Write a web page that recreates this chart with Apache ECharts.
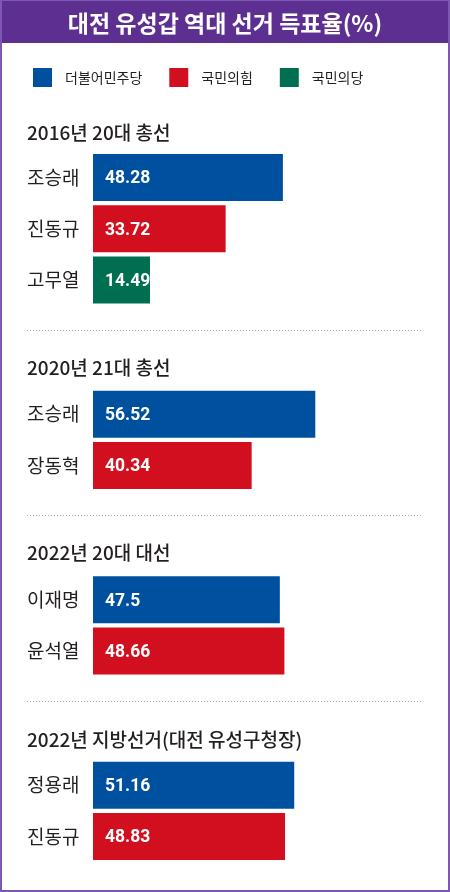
<!DOCTYPE html>
<html><head><meta charset="utf-8">
<script src="https://cdn.jsdelivr.net/npm/echarts@6/dist/echarts.min.js"></script>
<style>html,body{margin:0;padding:0;background:#fff}#c{width:450px;height:892px}</style>
</head><body><div id="c"></div>
<script>
const chartTitle = '대전 유성갑 역대 선거 득표율(%)';
const partyNames = ['더불어민주당', '국민의힘', '국민의당'];
const partyColors = ['#0050A0', '#D10F1E', '#006F51'];
const sectionTitles = ['2016년 20대 총선', '2020년 21대 총선', '2022년 20대 대선', '2022년 지방선거(대전 유성구청장)'];
const candidates = [['조승래', '진동규', '고무열'], ['조승래', '장동혁'], ['이재명', '윤석열'], ['정용래', '진동규']];
const voteShares = [[48.28, 33.72, 14.49], [56.52, 40.34], [47.5, 48.66], [51.16, 48.83]];
const candidateParty = [[0, 1, 2], [0, 1], [0, 1], [0, 1]];

const KR = '"Noto Sans CJK KR", "Noto Sans CJK SC", sans-serif';
const pitch = 51.3;
const gridTops = [151.85, 388.5, 574.0, 759.5];
const headerY = [133, 368, 553, 740];
const sepY = [330.5, 515.5, 701.5];

const chart = echarts.init(document.getElementById('c'));
const grids = [], xAxes = [], yAxes = [], series = [];
sectionTitles.forEach((t, i) => {
  grids.push({ left: 93, width: 354, top: gridTops[i], height: pitch * candidates[i].length });
  xAxes.push({ gridIndex: i, type: 'value', min: 0, max: 90, show: false });
  yAxes.push({
    gridIndex: i, type: 'category', inverse: true, data: candidates[i],
    axisLine: { show: false }, axisTick: { show: false }, splitLine: { show: false },
    axisLabel: { align: 'left', margin: 66, fontSize: 19, color: '#231f20', fontFamily: KR }
  });
  partyNames.forEach((p, pi) => {
    if (!candidateParty[i].includes(pi)) return;
    series.push({
      type: 'bar', name: p, xAxisIndex: i, yAxisIndex: i, stack: 's' + i,
      barWidth: 47, itemStyle: { color: partyColors[pi] },
      data: voteShares[i].map((v, k) => candidateParty[i][k] === pi ? v : '-'),
      label: {
        show: true, position: 'insideLeft', distance: 12, offset: [0, 1.5],
        color: '#fff', fontFamily: 'Roboto', fontWeight: 'bold', fontSize: 17.5,
        formatter: (d) => String(d.value)
      },
      emphasis: { disabled: true }, animation: false
    });
  });
});
const graphics = [
  { type: 'rect', shape: { x: 0, y: 0, width: 450, height: 43 }, style: { fill: '#5D2F91' }, z: 0 },
  { type: 'rect', shape: { x: 1, y: 0, width: 448, height: 891 }, style: { fill: 'none', stroke: '#7E57B3', lineWidth: 2 }, z: 0 },
  { type: 'text', x: 225, y: 23, style: { text: chartTitle, fill: '#fff', font: 'bold 23px ' + KR, align: 'center', verticalAlign: 'middle' } }
];
sectionTitles.forEach((t, i) => {
  graphics.push({ type: 'text', x: 27, y: headerY[i], style: { text: t, fill: '#231f20', font: '500 19px ' + KR, align: 'left', verticalAlign: 'middle' } });
});
sepY.forEach(y => {
  graphics.push({ type: 'line', shape: { x1: 27, y1: y, x2: 422, y2: y }, style: { stroke: '#a8a8a8', lineWidth: 1, lineDash: [1, 2] } });
});

chart.setOption({
  animation: false,
  grid: grids, xAxis: xAxes, yAxis: yAxes, series: series,
  legend: {
    data: partyNames, left: 28, top: 63, itemWidth: 19, itemHeight: 19, itemGap: 27,
    icon: 'rect', selectedMode: false,
    textStyle: { fontSize: 14, color: '#231f20', fontFamily: KR, padding: [0, 0, 0, 8] }
  },
  graphic: graphics
});
</script></body></html>
